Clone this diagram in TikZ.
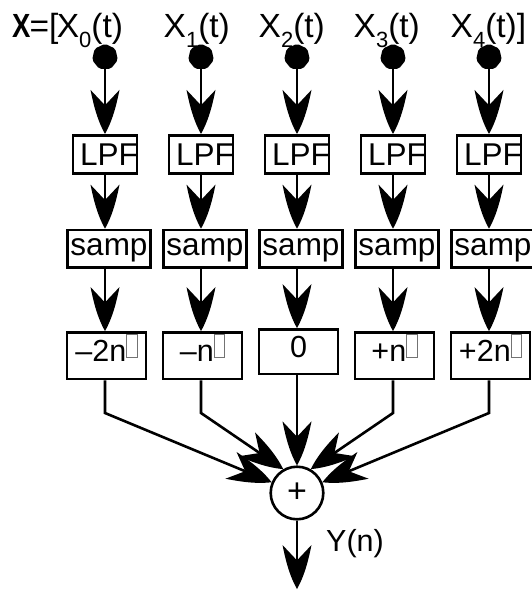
\documentclass[tikz,border=0pt]{standalone}
\usepackage{fontspec}
\usepackage{graphicx}
\setmainfont{Liberation Sans}
\usetikzlibrary{arrows.meta,shapes.geometric}
\newcommand\mysub[1]{\raisebox{-10pt}{\fontsize{22}{22}\selectfont #1}}
\newcommand\nbox{\raisebox{4.5pt}{\color{black!55}\setlength\fboxsep{0pt}\setlength\fboxrule{0.9pt}\fbox{\rule{0pt}{21.5pt}\hspace{9.5pt}}}}
\pgfdeclarearrow{
  name=Barbed,
  parameters={\the\pgfarrowlength,\the\pgfarrowwidth},
  setup code={
    \pgfarrowssettipend{0pt}
    \pgfarrowssetlineend{-0.5\pgfarrowlength}
    \pgfarrowssetvisualbackend{-0.6\pgfarrowlength}
    \pgfarrowssetbackend{-\pgfarrowlength}
    \pgfarrowsupperhullpoint{-\pgfarrowlength}{.5\pgfarrowwidth}
    \pgfarrowsupperhullpoint{0pt}{0pt}
    \pgfarrowssavethe\pgfarrowlength
    \pgfarrowssavethe\pgfarrowwidth
  },
  drawing code={
    \pgfpathmoveto{\pgfqpoint{0pt}{0pt}}
    \pgfpathcurveto{\pgfqpoint{-.35\pgfarrowlength}{.3\pgfarrowwidth}}{\pgfqpoint{-.75\pgfarrowlength}{.42\pgfarrowwidth}}{\pgfqpoint{-\pgfarrowlength}{.5\pgfarrowwidth}}
    \pgfpathlineto{\pgfqpoint{-.65\pgfarrowlength}{0pt}}
    \pgfpathlineto{\pgfqpoint{-\pgfarrowlength}{-.5\pgfarrowwidth}}
    \pgfpathcurveto{\pgfqpoint{-.75\pgfarrowlength}{-.42\pgfarrowwidth}}{\pgfqpoint{-.35\pgfarrowlength}{-.3\pgfarrowwidth}}{\pgfqpoint{0pt}{0pt}}
    \pgfpathclose
    \pgfusepathqfill
  },
  defaults={length=44pt, width=29pt}
}
\tikzset{
  ln/.style={line width=2.6pt},
  arr/.style={ln, -{Barbed[length=44pt,width=29pt]}},
  dot/.style={regular polygon, regular polygon sides=7, fill=black, minimum size=26.5pt, inner sep=0pt, rounded corners=2pt},
  lpfbox/.style={draw, ln, minimum width=64pt, minimum height=38pt, inner sep=0pt, font=\fontsize{31.5}{36}\selectfont},
  sampbox/.style={draw, ln, minimum width=83.5pt, minimum height=37.5pt, inner sep=0pt, text height=17.5pt, text depth=3pt, font=\fontsize{31.5}{36}\selectfont},
  dlybox/.style={draw, ln, minimum width=78.7pt, minimum height=46.7pt, inner sep=0pt, text height=21.5pt, text depth=10.9pt, font=\fontsize{30.5}{36}\selectfont},
  lab/.style={anchor=base west, inner sep=0pt, font=\fontsize{33.5}{38}\selectfont},
  adder/.style={circle, draw, ln, minimum size=52.6pt, inner sep=0pt, font=\fontsize{34}{36}\selectfont},
}
\begin{document}
\begin{tikzpicture}[x=1pt, y=-1pt]
\useasboundingbox (0,0) rectangle (532,590);
% top labels
\node[lab] (xl0) at (12,37) {\scalebox{0.82}[1]{\textbf{X}}\kern-1pt=[\kern-1.5pt X\mysub{0}(t)};
\node[lab] (xl1) at (163.5,37) {X\mysub{1}(t)};
\node[lab] (xl2) at (258.5,37) {X\mysub{2}(t)};
\node[lab] (xl3) at (353.5,37) {X\mysub{3}(t)};
\node[lab] (xl4) at (450.5,37) {X\mysub{4}(t)]};
% columns
\foreach \i/\cx/\txt in {0/105/{–2n\nbox}, 1/201/{–n\nbox}, 3/393/{+n\nbox}, 4/489/{+2n\nbox}} {
  \node[dot] (d\i) at (\cx,57) {};
  \node[lpfbox] (l\i) at (\cx,154.2) {\makebox[64pt][l]{\hspace{7pt}LPF}};
  \node[sampbox] (s\i) at (\cx+4,248.7) {samp};
  \node[dlybox] (t\i) at (\cx+1.5,355.7) {\txt};
  \draw[arr] (d\i.center) -- (l\i.north);
  \draw[arr] (l\i.south) -- (s\i.north -| l\i.south);
  \draw[arr] (s\i.south -| l\i.south) -- (t\i.north -| l\i.south);
}
\node[dot] (d2) at (297,57) {};
\node[lpfbox] (l2) at (297,154.2) {\makebox[64pt][l]{\hspace{7pt}LPF}};
\node[sampbox] (s2) at (301,248.7) {samp};
\node[dlybox, minimum height=44.7pt] (t2) at (298.5,351.7) {0};
\draw[arr] (d2.center) -- (l2.north);
\draw[arr] (l2.south) -- (s2.north -| l2.south);
\draw[arr] (s2.south -| l2.south) -- (t2.north -| l2.south);
% adder
\node[adder] (add) at (297,493) {+};
\coordinate (e0) at (105,413);
\coordinate (e1) at (201,413);
\coordinate (e3) at (393,413);
\coordinate (e4) at (489,413);
\draw[arr] (t0.south -| l0.south) -- (e0) -- (add.157);
\draw[arr] (t1.south -| l1.south) -- (e1) -- (add.120);
\draw[arr] (t2.south -| l2.south) -- (add.north);
\draw[arr] (t3.south -| l3.south) -- (e3) -- (add.60);
\draw[arr] (t4.south -| l4.south) -- (e4) -- (add.23);
\coordinate (out) at (297,589);
\draw[arr] (add.south) -- (out);
\node[lab, font=\fontsize{30.5}{36}\selectfont] (yl) at (326,551.7) {Y(n)};
\end{tikzpicture}
\end{document}
